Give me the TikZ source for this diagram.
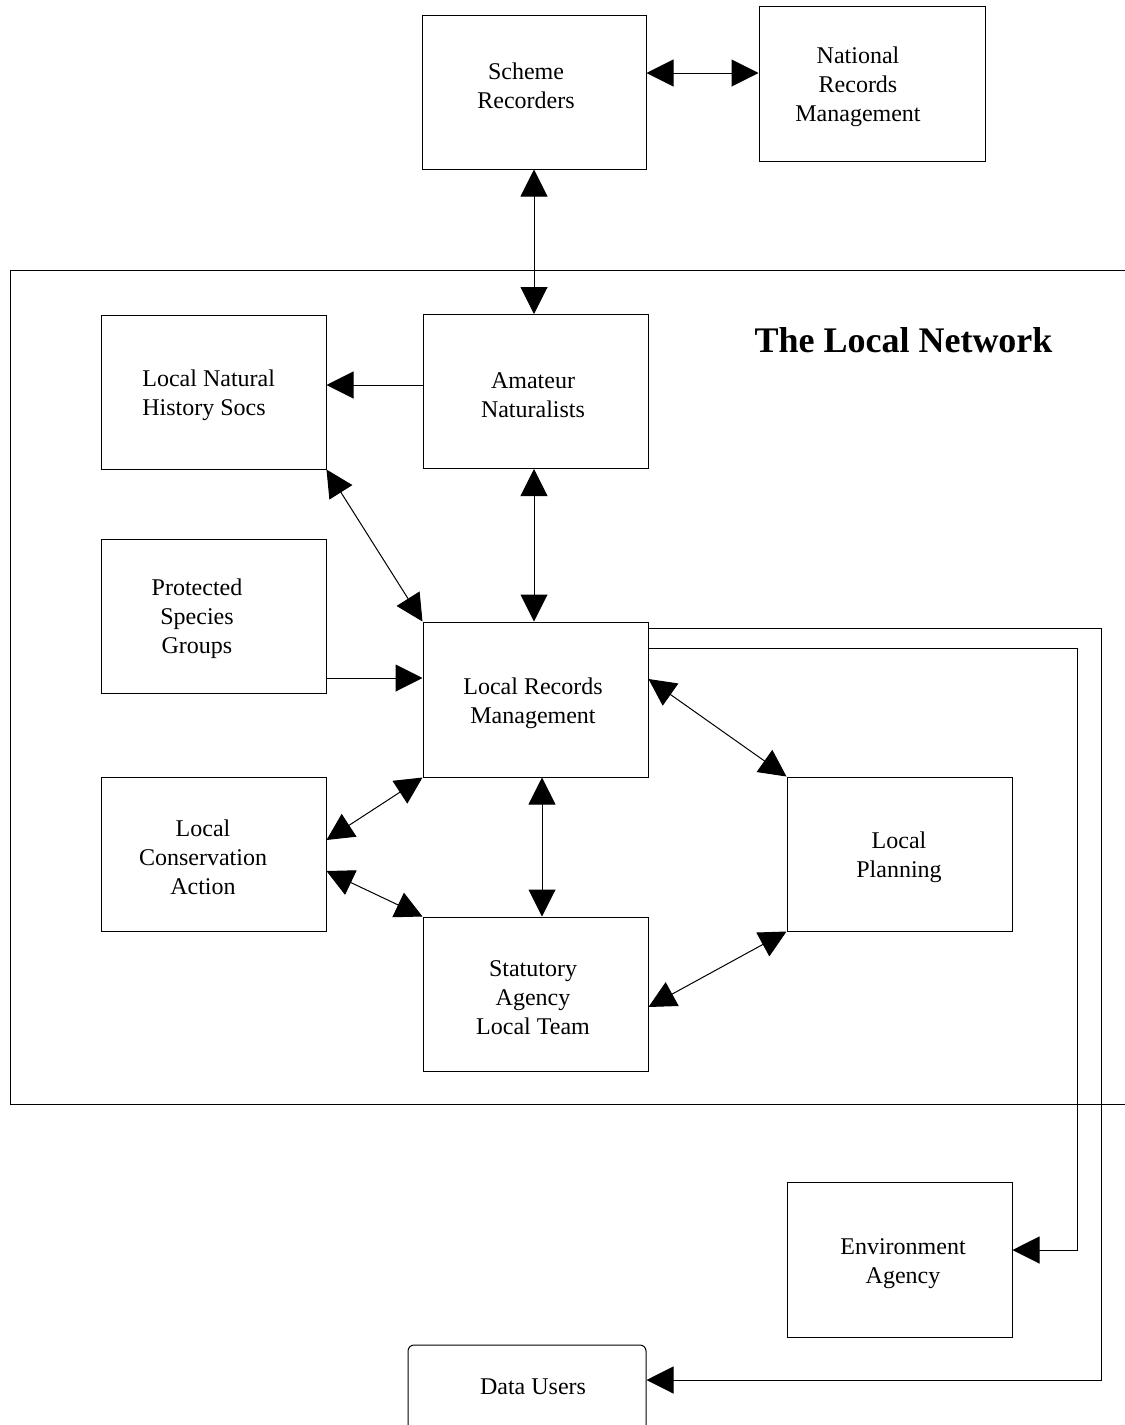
\documentclass[tikz,border=0pt]{standalone}
\usepackage{fontspec}
\setmainfont{Liberation Serif}
\usetikzlibrary{arrows.meta}
\begin{document}
\begin{tikzpicture}[x=0.5pt,y=-0.5pt,
  box/.style={draw,line width=0.5pt,minimum width=112.5pt,minimum height=77pt,inner sep=0pt},
  txt/.style={align=center,inner sep=0pt,font=\fontsize{12pt}{14.5pt}\selectfont},
  uni/.style={line width=0.5pt,-{Triangle[length=13.5pt,width=13.5pt]}},
  bi/.style={line width=0.5pt,{Triangle[length=13.5pt,width=13.5pt]}-{Triangle[length=13.5pt,width=13.5pt]}}]
\useasboundingbox (0,0) rectangle (1125,1425);
\clip (0,0) rectangle (1125,1425);

% frame of the local network
\draw[line width=0.5pt] (1140,270) -- (10,270) -- (10,1104) -- (1140,1104);
\node[font=\fontsize{18pt}{21pt}\selectfont\bfseries,anchor=base,inner sep=0pt] (title) at (903.5,352) {The Local Network};

% boxes
\node[box,minimum width=112pt] (scheme) at (534,92) {};
\node[box,minimum width=113pt,minimum height=77.5pt] (national) at (872,83.5) {};
\node[box] (lnh) at (213.5,392) {};
\node[box] (ama) at (535.5,391.5) {};
\node[box] (psg) at (213.5,616) {};
\node[box,minimum height=77.5pt] (lrm) at (535.5,699.5) {};
\node[box] (lca) at (213.5,854) {};
\node[box] (plan) at (899.5,854) {};
\node[box] (sat) at (535.5,994) {};
\node[box,minimum height=77.5pt] (env) at (899.5,1259.5) {};
\node[box,minimum width=119pt,minimum height=43.5pt,rounded corners=3pt] (data) at (527,1388.5) {};

% labels
\node[txt] (schemeT) at (526,86) {Scheme\\Recorders};
\node[txt] (nationalT) at (858,87) {National\\Records\\Management};
\node[txt,align=left,anchor=west] (lnhT) at (142,395) {Local Natural\\History Socs};
\node[txt] (amaT) at (533,395) {Amateur\\Naturalists};
\node[txt] (psgT) at (197,619) {Protected\\Species\\Groups};
\node[txt] (lrmT) at (533,703) {Local Records\\Management};
\node[txt] (lcaT) at (203,857) {Local\\Conservation\\Action};
\node[txt] (planT) at (899,857) {Local\\Planning};
\node[txt] (satT) at (533,998) {Statutory\\Agency\\Local Team};
\node[txt] (envT) at (903,1264) {Environment\\Agency};
\node[txt] (dataT) at (533,1387) {Data Users};

% helper levels for connector positions
\coordinate (y73) at (0,73);
\coordinate (y385) at (0,385);
\coordinate (y628) at (0,628);
\coordinate (y648) at (0,648);
\coordinate (y678) at (0,678);
\coordinate (y679) at (0,679);
\coordinate (y840) at (0,840);
\coordinate (y871) at (0,871);
\coordinate (y1007) at (0,1007);
\coordinate (y1250) at (0,1250);
\coordinate (y1380) at (0,1380);
\coordinate (x542) at (542,0);
\coordinate (x1077) at (1077,0);
\coordinate (x1101) at (1101,0);

% connectors
\draw[bi] (scheme.east |- y73) -- (national.west |- y73);
\draw[bi] (scheme.south) -- (scheme.south |- ama.north);
\draw[uni] (ama.west |- y385) -- (lnh.east |- y385);
\draw[bi] (lnh.south east) -- (lrm.north west);
\draw[bi] (ama.south -| scheme.south) -- (lrm.north -| scheme.south);
\draw[uni] (psg.east |- y678) -- (lrm.west |- y678);
\draw[bi] (lrm.south west) -- (lca.east |- y840);
\draw[bi] (lca.east |- y871) -- (sat.north west);
\draw[bi] (lrm.south -| x542) -- (sat.north -| x542);
\draw[bi] (lrm.east |- y679) -- (plan.north west);
\draw[bi] (sat.east |- y1007) -- (plan.south west);
\draw[uni] (lrm.east |- y648) -- (x1077 |- y648) -- (x1077 |- y1250) -- (env.east |- y1250);
\draw[uni] (lrm.east |- y628) -- (x1101 |- y628) -- (x1101 |- y1380) -- (data.east |- y1380);
\end{tikzpicture}
\end{document}
